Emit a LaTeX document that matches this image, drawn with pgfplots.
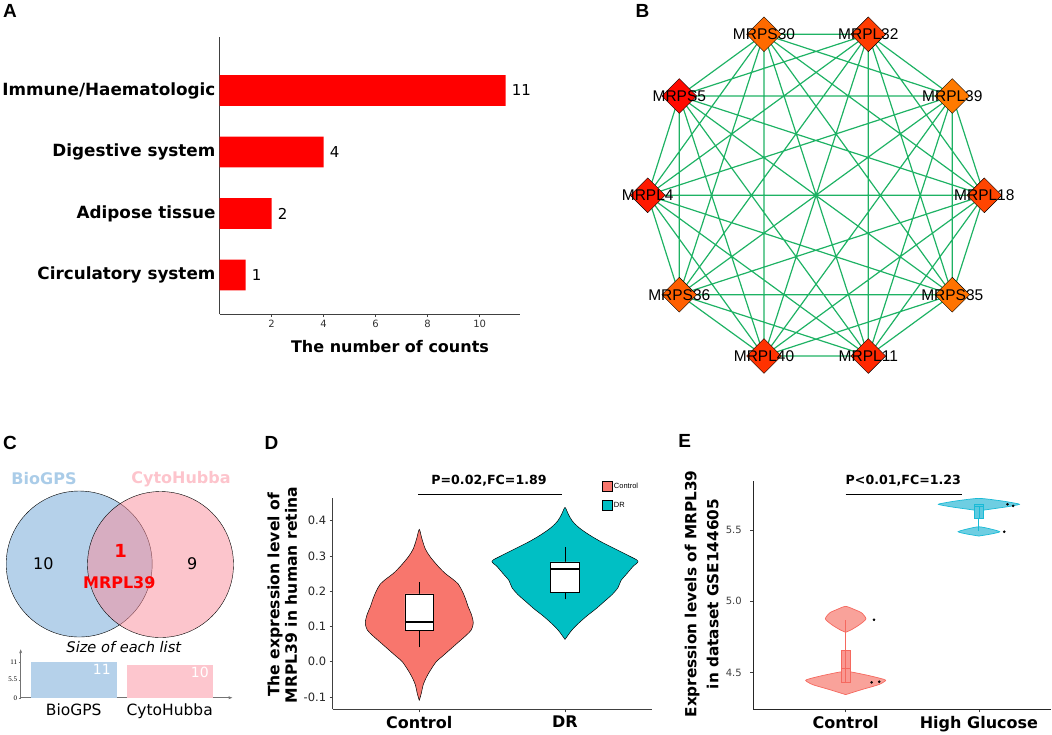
\documentclass[border=0pt]{standalone}
\usepackage{fontspec}
\setmainfont{DejaVu Sans}
\newfontfamily\arialf{Liberation Sans}
\newfontfamily\timesf{Liberation Serif}
\usepackage{pgfplots}
\pgfplotsset{compat=1.18}
\usepackage{pgfplotstable}
\usetikzlibrary{arrows.meta}

\newcommand\fs[1]{\fontsize{#1}{#1}\selectfont}

\definecolor{barred}{RGB}{255,0,0}
\definecolor{edgecol}{RGB}{30,178,100}
\definecolor{ctrl}{RGB}{248,118,109}
\definecolor{dr}{RGB}{0,191,196}
\definecolor{vblue}{RGB}{181,209,234}
\definecolor{vpink}{RGB}{249,139,153}
\definecolor{vpinkbar}{RGB}{253,198,206}
\definecolor{vbluetxt}{RGB}{170,204,232}
\definecolor{vpinktxt}{RGB}{253,196,204}
\definecolor{eCfill}{RGB}{249,162,154}
\definecolor{eCline}{RGB}{245,105,95}
\definecolor{eHfill}{RGB}{110,206,226}
\definecolor{eHline}{RGB}{25,186,214}
\definecolor{nL18}{RGB}{255,69,0}
\definecolor{nL39}{RGB}{255,122,0}
\definecolor{nL32}{RGB}{255,60,0}
\definecolor{nS30}{RGB}{255,106,0}
\definecolor{nS5}{RGB}{255,10,0}
\definecolor{nL4}{RGB}{255,25,0}
\definecolor{nS36}{RGB}{255,95,0}
\definecolor{nL40}{RGB}{255,50,0}
\definecolor{nL11}{RGB}{255,40,0}
\definecolor{nS35}{RGB}{255,115,0}

\pgfplotsset{dia/.style={only marks, mark=square*, mark size=12.3pt,
    mark options={rotate=45, draw=none, fill=#1}, forget plot}}
\tikzset{lbl/.style={font=\arialf\fs{15.5}, text=black, inner sep=0pt}}

% violin outlines: dx = horizontal offset in px from the category centre
\pgfplotstableread{
dx y
0 -0.110
-2 -0.090
-4 -0.065
-7 -0.045
-11 -0.025
-17 0.000
-23 0.015
-31 0.035
-39 0.055
-47 0.075
-52 0.090
-54 0.110
-52 0.135
-49 0.155
-46 0.180
-43 0.200
-39 0.220
-33 0.235
-26 0.250
-19 0.270
-11 0.297
-6 0.320
-2.5 0.350
0 0.375
2.5 0.350
6 0.320
11 0.297
19 0.270
26 0.250
33 0.235
39 0.220
43 0.200
46 0.180
49 0.155
52 0.135
54 0.110
52 0.090
47 0.075
39 0.055
31 0.035
23 0.015
17 0.000
11 -0.025
7 -0.045
4 -0.065
2 -0.090
0 -0.110
}\vDctrl

\pgfplotstableread{
dx y
0 0.063
-3 0.075
-7 0.090
-14 0.110
-22 0.130
-31 0.150
-39 0.170
-47 0.190
-53 0.210
-56 0.230
-62 0.250
-68 0.270
-73 0.285
-64 0.300
-50 0.320
-36 0.340
-24 0.360
-14 0.380
-7 0.400
-3 0.420
0 0.437
3 0.420
7 0.400
14 0.380
24 0.360
36 0.340
50 0.320
64 0.300
73 0.285
68 0.270
62 0.250
56 0.230
53 0.210
47 0.190
39 0.170
31 0.150
22 0.130
14 0.110
7 0.090
3 0.075
0 0.063
}\vDdr

\pgfplotstableread{
dx y
0 4.783
-6 4.802
-14 4.837
-20.3 4.877
-16 4.919
-9 4.942
0 4.965
9 4.942
16 4.919
20.3 4.877
14 4.837
6 4.802
0 4.783
}\vECup

\pgfplotstableread{
dx y
0 4.346
-16 4.381
-33 4.416
-40 4.446
-33 4.463
-19 4.486
0 4.509
19 4.486
33 4.463
40 4.446
33 4.416
16 4.381
0 4.346
}\vEClo

\pgfplotstableread{
dx y
0 5.635
-14 5.649
-28 5.663
-40.5 5.680
-34 5.691
-22 5.705
0 5.722
22 5.705
34 5.691
40.5 5.680
28 5.663
14 5.649
0 5.635
}\vEHup

\pgfplotstableread{
dx y
0 5.458
-12 5.472
-20.8 5.488
-12 5.507
0 5.523
12 5.507
20.8 5.488
12 5.472
0 5.458
}\vEHlo

% network node positions (px); every pair is joined by an edge
\def\nodelist{984.3/195.3,952.3/96,868.3/34.3,764/34.3,679.3/96,647.7/195.3,679.3/294.7,764/356,868.3/356,952.3/294.7}
\gdef\edgecoords{}
\foreach \xa/\ya [count=\i] in \nodelist {
  \foreach \xb/\yb [count=\j] in \nodelist {
    \ifnum\i<\j\relax
      \xdef\edgecoords{\edgecoords (\xa,\ya) (\xb,\yb) (nan,nan)}
    \fi
  }
}

\begin{document}
\begin{tikzpicture}
\path[use as bounding box] (0pt,0pt) rectangle (1052pt,-734pt);

% ---------------- A ----------------
\begin{axis}[
  at={(219.6pt,-314pt)}, anchor=south west, scale only axis,
  width=300.4pt, height=277pt,
  xmin=0, xmax=11.55, ymin=-0.634, ymax=3.87,
  axis x line*=bottom, axis y line*=left,
  axis line style={-, draw=black!75, line width=0.8pt},
  xbar, bar width=30.7pt,
  xtick={2,4,6,8,10}, tick align=outside, major tick length=3pt,
  x tick style={black!75, line width=0.6pt},
  ytick={0,1,2,3},
  yticklabels={Circulatory system,Adipose tissue,Digestive system,Immune/Haematologic},
  y tick style={draw=none},
  yticklabel style={font=\bfseries\fs{16.8}, inner sep=0pt, xshift=-1pt},
  xticklabel style={font=\fs{10}, text=black!80},
  /pgf/number format/assume math mode=true,
  nodes near coords,
  every node near coord/.append style={font=\fs{15}, inner sep=0pt, xshift=6pt},
  clip=false,
]
\addplot[fill=barred, draw=none] coordinates {(1,0) (2,1) (4,2) (11,3)};
\end{axis}
\node[font=\bfseries\fs{16}, anchor=north, inner sep=0pt] at (390pt,-340.5pt) {The number of counts};
\node[font=\arialf\bfseries\fs{19}] at (10pt,-11pt) {A};

% ---------------- B ----------------
\begin{axis}[
  at={(600pt,-380pt)}, anchor=south west, scale only axis,
  width=452pt, height=380pt,
  xmin=600, xmax=1052, ymin=0, ymax=380, y dir=reverse,
  hide axis, clip=false, unbounded coords=jump,
]
\edef\tmp{\noexpand\addplot[edgecol, line width=1.2pt, forget plot] coordinates {\edgecoords};}
\tmp
\addplot[dia=nL18] coordinates {(984.3,195.3)};
\addplot[dia=nL39] coordinates {(952.3,96)};
\addplot[dia=nL32] coordinates {(868.3,34.3)};
\addplot[dia=nS30] coordinates {(764,34.3)};
\addplot[dia=nS5]  coordinates {(679.3,96)};
\addplot[dia=nL4]  coordinates {(647.7,195.3)};
\addplot[dia=nS36] coordinates {(679.3,294.7)};
\addplot[dia=nL40] coordinates {(764,356)};
\addplot[dia=nL11] coordinates {(868.3,356)};
\addplot[dia=nS35] coordinates {(952.3,294.7)};
\end{axis}
\node[lbl] at (984.3pt,-195.3pt) {MRPL18};
\node[lbl] at (952.3pt,-96pt) {MRPL39};
\node[lbl] at (868.3pt,-34.3pt) {MRPL32};
\node[lbl] at (764pt,-34.3pt) {MRPS30};
\node[lbl] at (679.3pt,-96pt) {MRPS5};
\node[lbl] at (647.7pt,-195.3pt) {MRPL4};
\node[lbl] at (679.3pt,-294.7pt) {MRPS36};
\node[lbl] at (764pt,-356pt) {MRPL40};
\node[lbl] at (868.3pt,-356pt) {MRPL11};
\node[lbl] at (952.3pt,-294.7pt) {MRPS35};
\node[font=\arialf\bfseries\fs{19}] at (642.5pt,-10.5pt) {B};

% ---------------- C ----------------
\begin{axis}[
  at={(0pt,-734pt)}, anchor=south west, scale only axis,
  width=260pt, height=344pt,
  xmin=0, xmax=260, ymin=390, ymax=734, y dir=reverse,
  hide axis, clip=false,
]
\addplot[only marks, mark=*, mark size=73pt, mark options={draw=none, fill=vblue}] coordinates {(79.2,564)};
\addplot[only marks, mark=*, mark size=73pt, mark options={draw=none, fill=vpink, fill opacity=0.5}] coordinates {(160.5,564.5)};
\end{axis}
\node[font=\arialf\bfseries\fs{19}] at (10pt,-443.3pt) {C};
\node[font=\bfseries\fs{16}, text=vbluetxt] at (44pt,-479pt) {BioGPS};
\node[font=\bfseries\fs{16}, text=vpinktxt] at (181pt,-479pt) {CytoHubba};
\node[font=\fs{16}] at (43.3pt,-564pt) {10};
\node[font=\fs{16}] at (192.3pt,-564pt) {9};
\node[font=\bfseries\fs{18}, text=red] at (120.7pt,-550.7pt) {1};
\node[font=\bfseries\fs{16}, text=red] at (119.3pt,-582.7pt) {MRPL39};
\node[font=\itshape\fs{14.6}] at (123.8pt,-646.7pt) {Size of each list};

\begin{axis}[
  at={(20.7pt,-697.7pt)}, anchor=south west, scale only axis,
  width=211.6pt, height=48.4pt,
  xmin=-0.552, xmax=1.652, ymin=0, ymax=14.8,
  axis x line=bottom, axis y line=left,
  axis line style={black!55, line width=0.5pt, -{Stealth[length=4pt,width=3pt]}},
  ybar, bar width=86pt, bar shift=0pt,
  xtick={0,1}, xticklabels={BioGPS,CytoHubba},
  xticklabel style={font=\fs{15.5}},
  x tick style={draw=none},
  ytick={0,5.5,11}, yticklabels={0,5.5,11},
  yticklabel style={font=\timesf\fs{7}, inner sep=1.5pt},
  y tick style={black!55, line width=0.4pt},
  tick align=outside, major tick length=2pt,
  /pgf/number format/assume math mode=true,
  clip=false,
]
\addplot[fill=vblue, draw=none] coordinates {(0,11)};
\addplot[fill=vpinkbar, draw=none] coordinates {(1,10)};
\end{axis}
\node[font=\fs{14}, text=white, anchor=north east, inner sep=0pt] at (111pt,-664pt) {11};
\node[font=\fs{14}, text=white, anchor=north east, inner sep=0pt] at (209pt,-667pt) {10};

% ---------------- D ----------------
\begin{axis}[
  at={(332.7pt,-709.3pt)}, anchor=south west, scale only axis,
  width=319pt, height=211.3pt,
  xmin=0.406, xmax=2.595, ymin=-0.135, ymax=0.464,
  axis x line*=bottom, axis y line*=left,
  axis line style={-, draw=black!75, line width=0.8pt},
  tick align=outside, major tick length=3pt,
  tick style={black!75, line width=0.6pt},
  xtick={1,2}, xticklabels={Control,DR},
  xticklabel style={font=\bfseries\fs{16}},
  ytick={-0.1,0,0.1,0.2,0.3,0.4}, yticklabels={-0.1,0.0,0.1,0.2,0.3,0.4},
  yticklabel style={font=\fs{11.5}, text=black!85},
  /pgf/number format/assume math mode=true,
  clip=false,
  legend style={at={(0.845,1.082)}, anchor=north west, draw=none, fill=none,
    font=\arialf\fs{7.5}, inner sep=0pt, row sep=9pt, nodes={inner sep=1pt}},
  legend cell align=left,
  legend image code/.code={\draw[#1, line width=0.5pt] (0pt,-5pt) rectangle (10pt,5pt);},
]
\addplot[fill=ctrl, draw=black, line width=0.5pt, smooth, tension=0.5]
  table[x expr=1+\thisrow{dx}/145.7, y=y] {\vDctrl};
\addlegendentry{Control}
\addplot[fill=dr, draw=black, line width=0.5pt, smooth, tension=0.5]
  table[x expr=2+\thisrow{dx}/145.7, y=y] {\vDdr};
\addlegendentry{DR}
% box plots (whiskers, box, median)
\addplot[forget plot, black, line width=0.7pt] coordinates {(1,0.041) (1,0.0895)};
\addplot[forget plot, black, line width=0.7pt] coordinates {(1,0.192) (1,0.226)};
\addplot[forget plot, black, fill=white, line width=0.7pt]
  coordinates {(0.902,0.0895) (1.098,0.0895) (1.098,0.192) (0.902,0.192) (0.902,0.0895)};
\addplot[forget plot, black, line width=1.5pt] coordinates {(0.902,0.113) (1.098,0.113)};
\addplot[forget plot, black, line width=0.7pt] coordinates {(2,0.177) (2,0.197)};
\addplot[forget plot, black, line width=0.7pt] coordinates {(2,0.283) (2,0.324)};
\addplot[forget plot, black, fill=white, line width=0.7pt]
  coordinates {(1.899,0.197) (2.101,0.197) (2.101,0.283) (1.899,0.283) (1.899,0.197)};
\addplot[forget plot, black, line width=1.5pt] coordinates {(1.899,0.263) (2.101,0.263)};
\addplot[forget plot, black, line width=1pt] coordinates {(0.993,0.475) (1.981,0.475)};
\end{axis}
\node[font=\bfseries\fs{12.6}] at (489pt,-480.7pt) {P=0.02,FC=1.89};
\node[font=\bfseries\fontsize{15.6}{17.5}\selectfont, rotate=90, align=center] at (282.3pt,-595pt)
  {The expression level of\\MRPL39 in human retina};
\node[font=\arialf\bfseries\fs{19}] at (271.5pt,-443.3pt) {D};

% ---------------- E ----------------
\begin{axis}[
  at={(753.3pt,-709.3pt)}, anchor=south west, scale only axis,
  width=297.7pt, height=228.6pt,
  xmin=0.307, xmax=2.541, ymin=4.243, ymax=5.846,
  axis x line*=bottom, axis y line*=left,
  axis line style={-, draw=black!85, line width=0.8pt},
  tick align=outside, major tick length=3pt,
  tick style={black!75, line width=0.6pt},
  xtick={1,2}, xticklabels={Control,High Glucose},
  xticklabel style={font=\bfseries\fs{16}},
  ytick={4.5,5,5.5}, yticklabels={4.5,5.0,5.5},
  yticklabel style={font=\fs{10}, text=black!75, xshift=-5pt},
  /pgf/number format/assume math mode=true,
  clip=false,
]
\addplot[fill=eCfill, draw=eCline, line width=0.7pt, smooth, tension=0.4]
  table[x expr=1+\thisrow{dx}/133.3, y=y] {\vECup};
\addplot[fill=eCfill, draw=eCline, line width=0.7pt, smooth, tension=0.4]
  table[x expr=1+\thisrow{dx}/133.3, y=y] {\vEClo};
\addplot[fill=eHfill, draw=eHline, line width=0.7pt, smooth, tension=0.4]
  table[x expr=2+\thisrow{dx}/133.3, y=y] {\vEHup};
\addplot[fill=eHfill, draw=eHline, line width=0.7pt, smooth, tension=0.4]
  table[x expr=2+\thisrow{dx}/133.3, y=y] {\vEHlo};
% box plots
\addplot[eCline, line width=1pt] coordinates {(1,4.655) (1,4.872)};
\addplot[draw=eCline, fill=ctrl!75, line width=0.8pt]
  coordinates {(0.968,4.435) (1.032,4.435) (1.032,4.655) (0.968,4.655) (0.968,4.435)};
\addplot[eCline, line width=0.8pt] coordinates {(0.968,4.53) (1.032,4.53)};
\addplot[eCline, line width=0.6pt] coordinates {(1,4.435) (1,4.655)};
\addplot[eHline, line width=1pt] coordinates {(2,5.495) (2,5.581)};
\addplot[draw=eHline, fill=eHfill!80!eHline, line width=0.8pt]
  coordinates {(1.9685,5.581) (2.0315,5.581) (2.0315,5.681) (1.9685,5.681) (1.9685,5.581)};
\addplot[eHline, line width=0.8pt] coordinates {(1.9685,5.665) (2.0315,5.665)};
\addplot[eHline, line width=0.6pt] coordinates {(2,5.581) (2,5.665)};
\addplot[only marks, mark=*, mark size=1.1pt, black]
  coordinates {(1.212,4.871) (1.195,4.432) (1.252,4.437) (2.215,5.681) (2.257,5.669) (2.19,5.488)};
\addplot[black, line width=1pt] coordinates {(1,5.752) (1.87,5.752)};
\end{axis}
\node[font=\bfseries\fs{12.6}] at (903.3pt,-480.7pt) {P<0.01,FC=1.23};
\node[font=\bfseries\fontsize{15.3}{22}\selectfont, rotate=90, align=center] at (701.7pt,-594pt)
  {Expression levels of MRPL39\\in dataset GSE144605};
\node[font=\arialf\bfseries\fs{19}] at (684.7pt,-441.3pt) {E};

\end{tikzpicture}
\end{document}
